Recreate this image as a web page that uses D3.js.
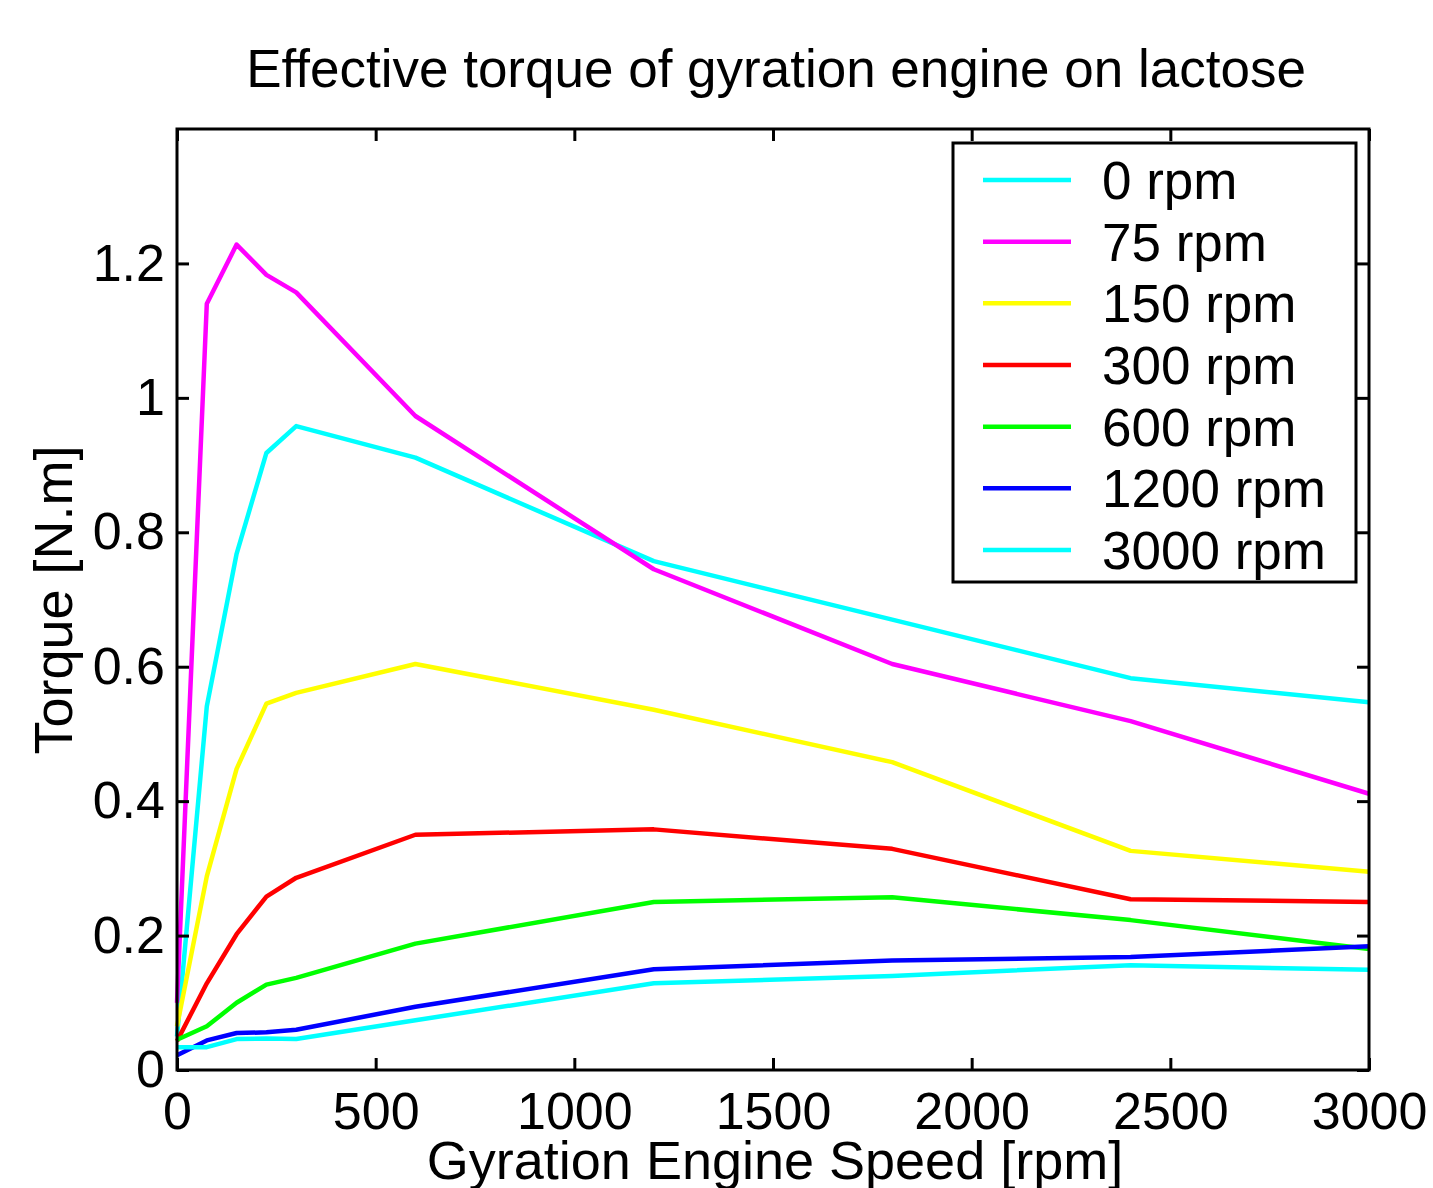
<!DOCTYPE html>
<html>
<head>
<meta charset="utf-8">
<script src="https://cdn.jsdelivr.net/npm/d3@7"></script>
<style>
  body { margin: 0; background: #fff; }
  text { font-family: "Liberation Sans", Arial, sans-serif; fill: #000; }
</style>
</head>
<body>
<svg id="chart"></svg>
<script>
// Chart size
const width = 1433;
const height = 1188;

// Data
const speeds = [0, 75, 150, 225, 300, 600, 1200, 1800, 2400, 3000];
const labels = ["0 rpm", "75 rpm", "150 rpm", "300 rpm", "600 rpm", "1200 rpm", "3000 rpm"];
const colors = ["#00ffff", "#ff00ff", "#ffff00", "#ff0000", "#00ff00", "#0000ff", "#00ffff"];
const t0    = [0.050, 0.541, 0.768, 0.918, 0.958, 0.911, 0.757, 0.670, 0.583, 0.547];
const t75   = [0.100, 1.140, 1.228, 1.183, 1.157, 0.973, 0.745, 0.604, 0.519, 0.411];
const t150  = [0.065, 0.288, 0.448, 0.545, 0.561, 0.604, 0.536, 0.458, 0.326, 0.295];
const t300  = [0.043, 0.129, 0.202, 0.258, 0.286, 0.350, 0.358, 0.329, 0.254, 0.250];
const t600  = [0.045, 0.065, 0.100, 0.127, 0.137, 0.188, 0.250, 0.257, 0.223, 0.180];
const t1200 = [0.022, 0.044, 0.055, 0.056, 0.060, 0.094, 0.150, 0.163, 0.168, 0.184];
const t3000 = [0.034, 0.034, 0.046, 0.047, 0.046, 0.074, 0.129, 0.140, 0.156, 0.149];
const series = [t0, t75, t150, t300, t600, t1200, t3000];
const xTicks = [0, 500, 1000, 1500, 2000, 2500, 3000];
const yTicks = [0, 0.2, 0.4, 0.6, 0.8, 1, 1.2];

// Plot box
const plotLeft = 177, plotRight = 1369, plotTop = 129, plotBottom = 1070;

const svg = d3.select("#chart")
    .attr("width", width)
    .attr("height", height);

const x = d3.scaleLinear().domain([0, 3000]).range([plotLeft, plotRight]);
const y = d3.scaleLinear().domain([0, 1.4]).range([plotBottom, plotTop]);

// Lines
const line = d3.line()
    .x((d, i) => x(speeds[i]))
    .y(d => y(d));

svg.append("g")
    .selectAll("path")
    .data(series)
    .join("path")
    .attr("d", line)
    .attr("fill", "none")
    .attr("stroke", (d, i) => colors[i])
    .attr("stroke-width", 4.5)
    .attr("stroke-linejoin", "round");

// Axes with inward ticks on all sides
const tickLen = 12;
svg.append("g")
    .attr("transform", `translate(0,${plotBottom})`)
    .call(d3.axisBottom(x).tickValues(xTicks).tickSizeInner(-tickLen).tickSizeOuter(0).tickPadding(22).tickFormat(d3.format("d")))
    .call(g => g.select(".domain").remove());
svg.append("g")
    .attr("transform", `translate(0,${plotTop})`)
    .call(d3.axisTop(x).tickValues(xTicks).tickSizeInner(-tickLen).tickSizeOuter(0).tickFormat(""))
    .call(g => g.select(".domain").remove());
svg.append("g")
    .attr("transform", `translate(${plotLeft},0)`)
    .call(d3.axisLeft(y).tickValues(yTicks).tickSizeInner(-tickLen).tickSizeOuter(0).tickPadding(12).tickFormat(d => String(+d.toFixed(1))))
    .call(g => g.select(".domain").remove());
svg.append("g")
    .attr("transform", `translate(${plotRight},0)`)
    .call(d3.axisRight(y).tickValues(yTicks).tickSizeInner(-tickLen).tickSizeOuter(0).tickFormat(""))
    .call(g => g.select(".domain").remove());

svg.selectAll(".tick line").attr("stroke", "#000").attr("stroke-width", 3);
svg.selectAll(".tick text").attr("font-size", 52).attr("font-family", "Liberation Sans, Arial, sans-serif").attr("fill", "#000");

// Box
svg.append("rect")
    .attr("x", plotLeft).attr("y", plotTop)
    .attr("width", plotRight - plotLeft).attr("height", plotBottom - plotTop)
    .attr("fill", "none").attr("stroke", "#000").attr("stroke-width", 3);

// Title and axis labels
svg.append("text")
    .attr("x", 776).attr("y", 87)
    .attr("text-anchor", "middle")
    .attr("font-size", 53)
    .text("Effective torque of gyration engine on lactose");

svg.append("text")
    .attr("x", 775).attr("y", 1179)
    .attr("text-anchor", "middle")
    .attr("font-size", 54)
    .text("Gyration Engine Speed [rpm]");

svg.append("text")
    .attr("transform", `translate(72,600) rotate(-90)`)
    .attr("text-anchor", "middle")
    .attr("font-size", 54)
    .text("Torque [N.m]");

// Legend
const legend = svg.append("g");
legend.append("rect")
    .attr("x", 953).attr("y", 143)
    .attr("width", 403).attr("height", 439)
    .attr("fill", "#fff").attr("stroke", "#000").attr("stroke-width", 3);

const rowY = d3.scaleLinear().domain([0, 6]).range([180, 550]);
const rows = legend.selectAll("g.row")
    .data(labels)
    .join("g")
    .attr("class", "row")
    .attr("transform", (d, i) => `translate(0,${rowY(i)})`);
rows.append("line")
    .attr("x1", 983).attr("x2", 1071)
    .attr("stroke", (d, i) => colors[i])
    .attr("stroke-width", 4.5);
rows.append("text")
    .attr("x", 1102).attr("dy", "0.36em")
    .attr("font-size", 53)
    .text(d => d);
</script>
</body>
</html>
